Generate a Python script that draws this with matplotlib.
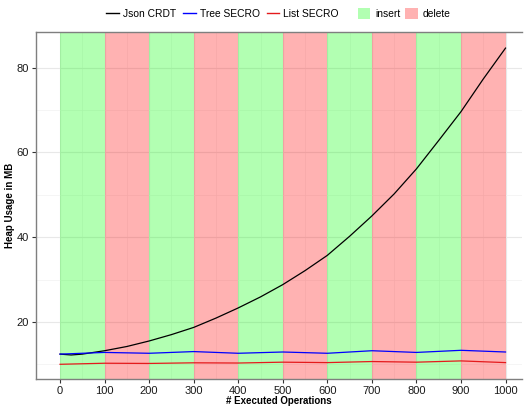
import matplotlib.pyplot as plt
import matplotlib.patches as mpatches
from matplotlib.lines import Line2D

plt.rcParams['font.family'] = ['Liberation Sans', 'DejaVu Sans']

# executed operations (x) and heap usage in MB per implementation
ops = [0, 25, 50, 100, 150, 200, 250, 300, 350, 400, 450, 500,
       550, 600, 650, 700, 750, 800, 850, 900, 950, 1000]
json_crdt = [12.4, 12.2, 12.4, 13.2, 14.2, 15.5, 17.0, 18.7, 20.9, 23.3, 25.9, 28.8,
             32.1, 35.7, 40.2, 45.0, 50.2, 56.1, 62.8, 69.6, 77.3, 84.6]

secro_ops = [0, 100, 200, 300, 400, 500, 600, 700, 800, 900, 1000]
tree_secro = [12.4, 12.8, 12.6, 13.0, 12.6, 12.9, 12.6, 13.2, 12.8, 13.3, 12.9]
list_secro = [10.0, 10.25, 10.2, 10.35, 10.3, 10.5, 10.4, 10.65, 10.5, 10.8, 10.4]

# phases: each block of 100 ops is either an insert or a delete phase
phase_starts = [0, 100, 200, 300, 400, 500, 600, 700, 800, 900]
phase_kind = ['insert', 'delete'] * 5
phase_colors = {'insert': '#00ff00', 'delete': '#ff0000'}

fig = plt.figure(figsize=(5.26, 4.08), dpi=100)
ax = fig.add_axes([0.0684, 0.0718, 0.9240, 0.8498])

for start, kind in zip(phase_starts, phase_kind):
    ax.axvspan(start, start + 100, color=phase_colors[kind], alpha=0.3, lw=0, zorder=1)

ax.plot(ops, json_crdt, color='black', lw=0.9, zorder=3)
ax.plot(secro_ops, tree_secro, color='#0000ff', lw=0.9, zorder=3)
ax.plot(secro_ops, list_secro, color='#e41a1c', lw=0.9, zorder=3)

ax.set_xlim(-54, 1037)
ax.set_ylim(6.6, 88.4)
ax.set_xticks(range(0, 1001, 100))
ax.set_xticks(range(50, 1000, 100), minor=True)
ax.set_yticks([20, 40, 60, 80])
ax.set_yticks([10, 30, 50, 70], minor=True)
ax.grid(True, which='major', color='#e8e8e8', lw=0.8, zorder=0)
ax.grid(True, which='minor', color='#f2f2f2', lw=0.5, zorder=0)
ax.set_axisbelow(True)
ax.tick_params(which='major', length=3, color='#333333', labelsize=8, labelcolor='#1a1a1a', pad=2)
ax.tick_params(which='minor', length=0)
for side in ['left', 'bottom', 'top']:
    ax.spines[side].set_color('#7f7f7f')
    ax.spines[side].set_linewidth(1.0)
ax.spines['right'].set_visible(False)

ax.set_xlabel('# Executed Operations', fontsize=7, fontweight='bold', labelpad=0)
ax.set_ylabel('Heap Usage in MB', fontsize=7, fontweight='bold', labelpad=1)

line_handles = [Line2D([], [], color='black', lw=1),
                Line2D([], [], color='#0000ff', lw=1),
                Line2D([], [], color='#e41a1c', lw=1)]
fig.legend(line_handles, ['Json CRDT', 'Tree SECRO', 'List SECRO'],
           loc='center right', bbox_to_anchor=(0.652, 0.966), ncol=3,
           frameon=False, fontsize=7.4, handlelength=1.2, handletextpad=0.4,
           columnspacing=0.7, borderaxespad=0)
patch_handles = [mpatches.Patch(color=phase_colors['insert'], alpha=0.3, lw=0),
                 mpatches.Patch(color=phase_colors['delete'], alpha=0.3, lw=0)]
fig.legend(patch_handles, ['insert', 'delete'],
           loc='center left', bbox_to_anchor=(0.672, 0.966), ncol=2,
           frameon=False, fontsize=7.4, handlelength=1.2, handleheight=1.3,
           handletextpad=0.5, columnspacing=0.5, borderaxespad=0)

fig.savefig('out.png', dpi=100)
